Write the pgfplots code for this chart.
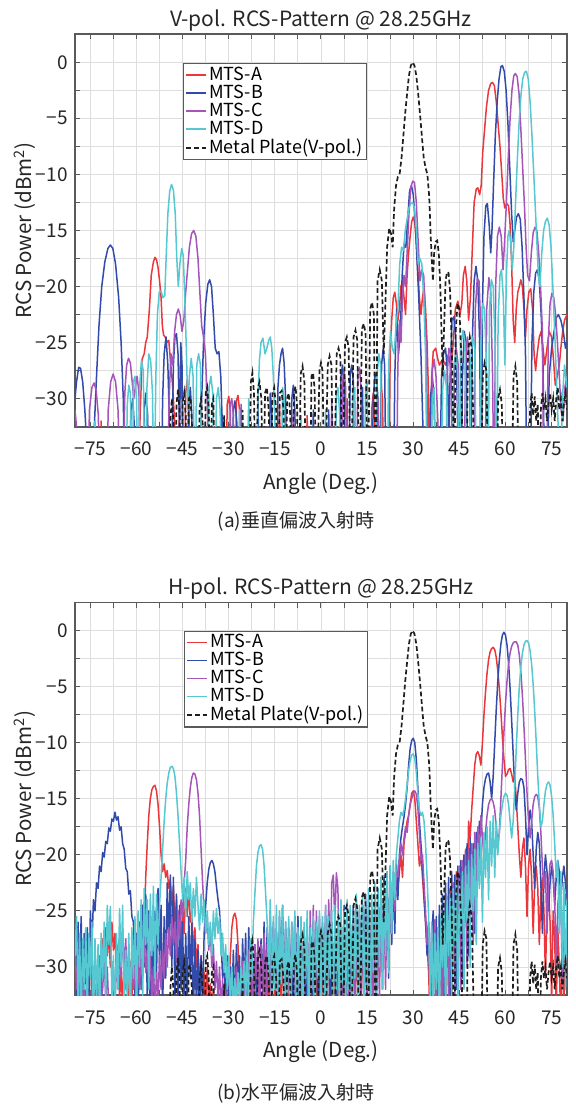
\documentclass[border=0pt]{standalone}
\usepackage{fontspec}
\setmainfont{Noto Sans CJK JP}
\usepackage{pgfplots}
\usepackage{pgfplotstable}
\pgfplotsset{compat=1.18}

\definecolor{cA}{RGB}{235,55,60}
\definecolor{cB}{RGB}{50,75,170}
\definecolor{cC}{RGB}{165,85,185}
\definecolor{cD}{RGB}{85,200,210}
\definecolor{axgray}{RGB}{90,90,90}

% metal plate reference (same in both panels)
\pgfplotstableread{
x y
-80 -40
-50 -40
-49 -32
-48.5 -30
-48 -32
-47.5 -40
-47 -30.5
-46.5 -29.2
-46 -31
-45.5 -40
-45 -30.5
-44.5 -29.5
-44 -31.5
-43.5 -40
-43 -30
-42.5 -29.8
-42 -32
-41.5 -40
-40 -40
-39.5 -31
-39 -30
-38.5 -32
-38 -40
-37.5 -29.5
-37 -29
-36.5 -31
-36 -40
-35.5 -30.5
-35 -30
-34.5 -40
-32 -40
-31.5 -31.5
-31 -40
-26 -40
-25.5 -31
-25 -40
-23.5 -40
-22.8 -28.5
-22.3 -27.7
-21.8 -29.5
-21.2 -40
-20.5 -29
-20 -28.5
-19.4 -30
-18.8 -40
-18.2 -29.5
-17.6 -29
-17 -31
-16.4 -40
-15.8 -29.5
-15.2 -29
-14.6 -31
-14 -40
-13.4 -29.5
-12.8 -29.3
-12.2 -31
-11.6 -40
-11 -30
-10.5 -29.5
-10 -31.5
-9.4 -40
-8.8 -29.5
-8.3 -28.9
-7.8 -30.5
-7.2 -40
-6.6 -27.8
-6 -27.1
-5.4 -28.5
-4.8 -40
-3.6 -40
-3.1 -28
-2.6 -27.7
-2.1 -29
-1.4 -40
-0.5 -27.5
0 -26.8
0.5 -27.5
1.2 -40
2.2 -27
2.8 -26.2
3.4 -27
4.1 -40
5.1 -26
5.7 -25.5
6.3 -26.3
7 -40
7.8 -25
8.4 -24.5
9 -25.5
9.7 -40
10.6 -24.5
11.2 -23.9
11.8 -24.8
12.5 -40
13.3 -23.8
13.9 -23.3
14.5 -24.2
15.2 -40
16 -22
16.6 -21.4
17.2 -22.5
17.8 -40
18.4 -19.5
19.1 -18.5
19.8 -19.5
20.4 -26
20.9 -22
21.5 -16.5
22.2 -14.8
22.8 -15.3
23.3 -16.5
23.8 -13
24.4 -11
25 -10.2
25.6 -9.9
26.2 -8.5
26.8 -6.5
27.4 -4.5
28 -2.8
28.6 -1.2
29.2 -0.3
29.8 0
30.4 -0.3
31 -1.2
31.6 -2.8
32.2 -4.6
32.8 -6.6
33.4 -8.5
34 -9.4
34.6 -10
35.2 -12
35.6 -15
36 -17.5
36.4 -19.5
36.8 -17
37.3 -16
37.8 -15.9
38.3 -17
38.8 -20
39.2 -24
39.6 -28
40 -24
40.5 -19.5
41 -18.7
41.5 -18.8
42 -20.5
42.5 -25
43 -32
43.3 -40
43.8 -24
44.4 -21.5
45 -22
45.6 -26
46.2 -40
47.2 -40
47.8 -26
48.4 -24.5
49 -25.5
49.6 -33
50 -40
52 -40
52.6 -28
53.2 -26.8
53.8 -27.5
54.4 -40
57 -40
57.6 -30
58.2 -29.2
58.8 -30.5
59.4 -40
62 -40
62.6 -28
63.2 -27.1
63.8 -28.5
64.4 -40
67.5 -40
68 -31
68.5 -29.5
69 -31.5
69.5 -29.8
70 -32
70.5 -30.5
71 -40
71.5 -31
72 -29.5
72.5 -31
73 -30
73.5 -32
74 -30.5
74.5 -29.5
75 -31
75.5 -30
76 -32
76.5 -30
77 -29
77.5 -31
78 -30
78.5 -32
79 -30.5
79.5 -29.5
80 -31
}\metal

\pgfplotsset{
  rcsaxis/.style={
    scale only axis, width=246pt, height=196.25pt,
    xmin=-80, xmax=80, ymin=-32.5, ymax=2.5,
    xtick={-75,-60,...,75},
    xticklabels={−75,−60,−45,−30,−15,0,15,30,45,60,75},
    minor x tick num=1,
    ytick={-30,-25,...,0},
    yticklabels={−30,−25,−20,−15,−10,−5,0},
    minor y tick num=1,
    grid=both,
    major grid style={black!13, line width=0.45pt},
    minor grid style={black!13, line width=0.45pt},
    tick align=inside,
    major tick length=2.6pt, minor tick length=2.6pt,
    tick style={axgray, line width=0.5pt},
    axis line style={axgray, line width=0.8pt},
    ticklabel style={font=\fontsize{9.5}{10}\selectfont, text=black!85},
    xticklabel style={anchor=base, yshift=-14.6pt},
    yticklabel style={anchor=east, inner sep=0pt, xshift=-3.5pt},
    xlabel={Angle (Deg.)},
    ylabel={RCS Power (dBm\textsuperscript{2})},
    label style={font=\fontsize{10.3}{12}\selectfont, text=black!85},
    xlabel style={at={(axis description cs:0.5,-0.1595)}, anchor=base},
    ylabel style={at={(axis description cs:-0.1016,0.5)}, anchor=center},
    every axis title/.style={at={(axis description cs:0.5,1.0204)}, anchor=base,
      font=\fontsize{10.5}{12}\selectfont, text=black!85},
    legend style={at={(0.2195,0.926)}, anchor=north west, draw=axgray,
      line width=0.6pt, fill=white, inner xsep=1pt, inner ysep=0.5pt,
      font=\fontsize{9}{10}\selectfont, row sep=-1.2pt,
      nodes={inner sep=1pt, text depth=0.15em}},
    legend cell align=left,
    legend image code/.code={\draw[##1] (0pt,0pt) -- (10pt,0pt);},
  },
  sA/.style={cA, line width=0.75pt, line join=round},
  sB/.style={cB, line width=0.75pt, line join=round},
  sC/.style={cC, line width=0.75pt, line join=round},
  sD/.style={cD, line width=0.75pt, line join=round},
  sM/.style={black!88, line width=0.85pt, dash pattern=on 2.4pt off 1.4pt},
}

\begin{document}
\begin{tikzpicture}
\useasboundingbox (0,0) rectangle (288pt,-552pt);

% ---------------- (a) V-pol ----------------
\begin{axis}[rcsaxis, at={(37.5pt,-213.35pt)}, anchor=south west,
  title={V-pol. RCS-Pattern @ 28.25GHz}]
\addplot[sA] coordinates {
(-80,-40)(-72,-40)(-71.5,-32)(-71,-40)(-60,-40)(-59,-33)(-58.5,-29)(-58.2,-26.5)(-57.5,-26)(-57,-25)(-56.5,-24.5)(-55.8,-22)(-55.2,-19)(-54.5,-17.8)(-54,-17.4)(-53.5,-17.6)(-53,-18.3)(-52.5,-19.5)(-52,-21)(-51.6,-23.5)(-51.2,-24.3)(-50.5,-24.6)(-50,-25)(-49.5,-24.8)(-49,-26.5)(-48.5,-28)(-48,-30)(-47.5,-33)(-47,-40)
(-46.5,-40)(-46,-30)(-45.5,-28.5)(-45,-31)(-44.5,-40)(-44,-29.5)(-43.5,-28.3)(-43,-30)(-42.5,-40)(-33,-40)(-32.5,-31)(-32,-40)(-31,-40)(-30.5,-30.5)(-30,-29.8)(-29.5,-31)(-29,-40)(-28,-40)(-27.5,-30.2)(-27,-29.7)(-26.5,-31)(-26,-40)
(-14,-40)(-13.5,-30.5)(-13,-40)(-5,-40)(-4.5,-31.5)(-4,-40)(8,-40)(8.5,-30)(9,-40)(16,-40)(16.5,-31)(17,-29.5)(17.5,-32)(18,-40)(19,-40)(19.5,-28.5)(20,-30)(20.5,-40)
(22,-40)(22.5,-26)(23,-23)(23.5,-21)(24,-20.5)(24.5,-21.5)(25,-23)(25.5,-22)(26,-20)(26.5,-19.5)(27,-21)(27.5,-22.5)(28,-19)(28.5,-17)(29,-15.5)(29.5,-14.2)(30,-13.8)(30.5,-14.3)(31,-16)(31.5,-18.5)(32,-21)(32.5,-22.5)(33,-21)(33.5,-20)(34,-22)(34.5,-25)(35,-30)(35.5,-40)
(36,-28)(36.5,-25.8)(37.3,-25.5)(38,-26.5)(38.5,-27)(39.5,-26.5)(40.5,-27)(41.5,-26)(42.3,-27.5)(43,-25)(43.7,-22)(44.5,-21.3)(45.2,-22.5)(45.8,-21.5)(46.3,-19)(46.9,-18.2)(47.4,-19.5)(48,-23)(48.6,-21)(49.3,-16)(49.8,-12.5)(50.5,-11.3)(51,-11.2)(51.6,-11.8)(52.1,-11)(52.6,-8)(53.2,-6)(53.8,-4)(54.5,-2.5)(55.2,-1.9)(55.8,-1.8)(56.4,-2.1)(57,-3.5)(57.6,-5.5)(58.2,-7.5)(58.8,-10)(59.3,-12.2)(59.8,-13)(60.4,-12.6)(61,-12.8)(61.5,-14.5)(62,-18)(62.5,-23)(63,-25)(63.5,-22)(64,-20.5)(64.5,-20)(65,-19.4)(65.5,-20)(66,-22)(66.5,-24.5)(67,-22)(67.6,-20.5)(68.2,-20.2)(68.8,-22)(69.3,-26)(69.8,-27.5)(70.3,-26)(71,-24.5)(71.6,-24)(72.2,-25.5)(72.8,-27)(73.5,-25.5)(74.2,-24)(75,-24.5)(75.6,-26.5)(76.2,-28.8)(76.8,-28)(77.5,-27)(78,-25.5)(78.6,-24)(79.2,-23)(80,-22.5)
};
\addlegendentry{MTS-A}
\addplot[sB] coordinates {
(-80,-30)(-79.5,-28.5)(-78.8,-27.2)(-78.2,-27.3)(-77.5,-28.5)(-76.8,-31)(-76.2,-34)(-75.5,-40)(-74.5,-40)(-73.8,-33)(-73,-28)(-72.2,-23.5)(-71.3,-20)(-70.3,-17.8)(-69.3,-16.6)(-68.5,-16.3)(-67.7,-16.6)(-66.8,-18)(-65.8,-21)(-65,-25)(-64.3,-30)(-63.7,-40)
(-62.5,-40)(-61.8,-31)(-61.2,-30)(-60.6,-33)(-60,-40)(-58,-40)(-57.5,-31)(-57,-29.5)(-56.4,-31.5)(-55.8,-40)(-52,-40)(-51.5,-30)(-51,-26)(-50.4,-24.5)(-49.8,-27)(-49.2,-33)(-48.8,-40)(-48,-27)(-47.5,-24.5)(-47,-24.2)(-46.5,-26)(-46,-33)(-45.6,-25)(-45.2,-27)(-44.8,-40)
(-43.5,-40)(-43,-30)(-42.5,-29)(-42,-31.5)(-41.5,-40)(-39.5,-40)(-38.8,-30)(-38.2,-25)(-37.5,-21.5)(-36.8,-19.8)(-36.2,-19.4)(-35.6,-20)(-35,-22.5)(-34.4,-25.5)(-33.8,-26)(-33.2,-25.8)(-32.6,-28)(-32,-33)(-31.5,-40)
(-29,-40)(-28.5,-31)(-28,-30.2)(-27.4,-32)(-27,-40)(-24,-40)(-23.5,-31)(-23,-40)(-21,-40)(-20.5,-30)(-20,-40)(-17,-40)(-16.5,-29.5)(-16,-31)(-15.5,-40)(-14.5,-40)(-14,-29)(-13.5,-27)(-13,-26)(-12.5,-25.5)(-12,-26.8)(-11.5,-30)(-11,-40)(-10,-40)(-9.5,-30)(-9,-28.8)(-8.5,-31)(-8,-40)
(-3,-40)(-2.5,-31)(-2,-40)(2,-40)(2.5,-31)(3,-40)(6,-40)(6.5,-28)(7,-27)(7.5,-29)(8,-40)(9,-40)(9.5,-27.8)(10,-27)(10.5,-28.5)(11,-40)(13,-40)(13.5,-29)(14,-40)(16.5,-40)(17,-30)(17.5,-28)(18,-27.7)(18.5,-30)(19,-40)(19.7,-27)(20.2,-25.6)(20.7,-27)(21.2,-40)
(23.5,-40)(24,-28)(24.6,-22)(25.2,-26)(25.8,-24)(26.4,-19)(27,-16.2)(27.6,-16.5)(28.2,-14)(28.8,-11.5)(29.4,-11)(30,-11.8)(30.6,-14)(31.2,-17.5)(31.8,-21)(32.5,-26)(33.2,-33)(33.8,-40)
(35,-40)(35.6,-30)(36.2,-28)(36.8,-30)(37.4,-40)(38.5,-40)(39.2,-28)(39.8,-26)(40.5,-25.5)(41.1,-27.5)(41.6,-33)(42,-28)(42.6,-23)(43.2,-22.7)(43.8,-24.5)(44.3,-30)(44.8,-40)(45.5,-40)(46,-28)(46.6,-24)(47.2,-25)(47.8,-40)(48.6,-40)(49.2,-25)(49.8,-19.5)(50.4,-18.2)(51,-19.5)(51.6,-25)(52.1,-40)
(52.5,-22)(53,-15.5)(53.6,-12.8)(54.1,-12.6)(54.7,-14.5)(55.2,-17)(55.6,-15)(56.1,-11)(56.7,-6.5)(57.3,-3.5)(57.9,-1.5)(58.5,-0.4)(59,-0.3)(59.6,-0.8)(60.2,-2.5)(60.8,-5.5)(61.4,-9.5)(62,-13.5)(62.5,-16)(63,-15)(63.6,-13.8)(64.2,-13.5)(64.8,-14)(65.4,-16.5)(66,-21)(66.5,-26)(67,-40)
(68,-40)(68.6,-25)(69.2,-20.5)(69.8,-18.8)(70.4,-18.5)(71,-19.5)(71.6,-22.5)(72.2,-27)(72.8,-40)(73.5,-40)(74.2,-28)(75,-25.5)(75.8,-24)(76.5,-22.8)(77.2,-22.5)(78,-23)(78.8,-24)(79.5,-25.5)(80,-25)
};
\addlegendentry{MTS-B}
\addplot[sC] coordinates {
(-80,-31)(-79.5,-32.5)(-79,-40)(-76,-40)(-75.3,-31)(-74.5,-29)(-73.8,-28.6)(-73.1,-29.3)(-72.4,-31.5)(-71.9,-40)(-69.8,-40)(-69.2,-31)(-68.4,-28.5)(-67.6,-27.8)(-66.8,-28.5)(-66,-31)(-65.2,-40)(-64.5,-40)(-63.8,-29.5)(-63.2,-27)(-62.6,-26.4)(-62,-26.8)(-61.4,-28.5)(-60.9,-30)(-60.4,-29)(-59.8,-28)(-59.2,-29.5)(-58.6,-40)
(-57,-40)(-56.5,-31)(-56,-40)(-50,-40)(-49.4,-30)(-48.8,-26)(-48.2,-27)(-47.6,-24)(-47,-22.5)(-46.4,-22)(-45.8,-22.6)(-45.2,-24)(-44.6,-23)(-44,-20.5)(-43.4,-18.5)(-42.8,-16.5)(-42.1,-15.3)(-41.4,-15)(-40.7,-15.5)(-40,-17.5)(-39.4,-20.5)(-38.8,-23.5)(-38.2,-24.5)(-37.6,-26)(-37,-30)(-36.5,-40)
(-30,-40)(-29.5,-30.5)(-29,-30)(-28.5,-31.5)(-28,-40)(-26.5,-40)(-26,-30.5)(-25.5,-40)(-12,-40)(-11.5,-31)(-11,-40)(-9.5,-40)(-9,-31)(-8.5,-40)(3,-40)(3.5,-30)(4,-40)(6.5,-40)(7,-28.5)(7.5,-27.5)(8,-29)(8.5,-40)(11.5,-40)(12,-27.5)(12.5,-27.2)(13,-29)(13.5,-40)(18,-40)(18.5,-30)(19,-40)
(24.5,-40)(25,-27)(25.5,-23)(26,-25)(26.5,-21)(27,-19)(27.5,-20)(28,-17)(28.6,-13.5)(29.2,-11.2)(29.8,-10.6)(30.4,-10.7)(31,-12.5)(31.6,-16)(32.2,-19.5)(32.8,-18.5)(33.4,-19)(34,-23)(34.5,-30)(35,-40)
(35.6,-40)(36.2,-27.5)(36.8,-26.5)(37.4,-28)(38,-32)(38.6,-40)(40.5,-40)(41,-28)(41.6,-25.5)(42.2,-26)(42.8,-40)(43.4,-27)(44,-25.5)(44.6,-27)(45.2,-40)(46.5,-40)(47,-27)(47.6,-24.5)(48.2,-26)(48.8,-40)(49.6,-40)(50.2,-22)(50.8,-19.3)(51.4,-19.5)(52,-24)(52.6,-40)(53.3,-40)(53.9,-22)(54.6,-19.2)(55.2,-20.5)(55.8,-28)(56.3,-40)
(56.8,-20)(57.4,-15.5)(58,-14.7)(58.6,-15.5)(59.2,-18.5)(59.7,-16)(60.3,-12.5)(60.9,-8.5)(61.5,-5)(62.1,-2.5)(62.7,-1.2)(63.2,-1)(63.8,-1.3)(64.4,-2.8)(65,-6)(65.6,-9.5)(66.2,-13)(66.7,-16.5)(67.2,-19)(67.8,-19.5)(68.4,-17)(69,-15.2)(69.6,-14.7)(70.2,-15)(70.8,-17)(71.4,-20)(72,-24)(72.5,-40)
(73.3,-40)(73.9,-25)(74.5,-21.5)(75.1,-20.6)(75.7,-21)(76.3,-22.5)(76.9,-25)(77.5,-28)(78.1,-31)(78.7,-32)(79.3,-29)(80,-28)
};
\addlegendentry{MTS-C}
\addplot[sD] coordinates {
(-80,-40)(-74,-40)(-73.5,-32)(-73,-40)(-63.5,-40)(-63,-30.5)(-62.5,-28.8)(-62,-29.5)(-61.4,-40)(-61,-28.5)(-60.5,-28)(-60,-30)(-59.5,-40)(-59,-29)(-58.4,-26.6)(-57.8,-27.5)(-57.2,-40)(-56.6,-29)(-56,-26)(-55.4,-26.6)(-54.8,-29.5)(-54.3,-40)
(-53.7,-28)(-53.2,-22.5)(-52.6,-20.5)(-52,-20.4)(-51.4,-21)(-50.8,-20.8)(-50.3,-17)(-49.8,-13.5)(-49.2,-11.5)(-48.6,-10.9)(-48,-11.4)(-47.4,-13.5)(-46.9,-17.5)(-46.4,-20)(-45.9,-18)(-45.3,-16.6)(-44.8,-17.2)(-44.3,-21)(-43.8,-25.5)(-43.3,-31)(-42.8,-28)(-42.2,-26.4)(-41.6,-28)(-41,-40)(-40.4,-27)(-39.8,-26)(-39.2,-27)(-38.6,-40)
(-37,-40)(-36.4,-29)(-35.8,-28)(-35.2,-29.5)(-34.6,-40)(-34,-30)(-33.4,-29)(-32.8,-31)(-32.2,-40)(-27,-40)(-26.5,-31)(-26,-40)(-24,-40)(-23.5,-30)(-23,-40)(-21,-40)(-20.5,-30)(-20,-26.5)(-19.5,-25)(-18.9,-24.6)(-18.2,-26)(-17.6,-25.5)(-17,-24.8)(-16.5,-24.5)(-16,-25.5)(-15.5,-28)(-15,-32)(-14.5,-40)
(-13,-40)(-12.5,-29)(-12,-30)(-11.5,-40)(-7,-40)(-6.5,-31.5)(-6,-40)(1,-40)(1.5,-31)(2,-40)(4.5,-40)(5,-29.5)(5.5,-29)(6,-31)(6.5,-40)(10,-40)(10.5,-29.5)(11,-29)(11.5,-40)(14,-40)(14.5,-29)(15,-28.5)(15.5,-40)(17.5,-40)(18.2,-28)(18.8,-26)(19.4,-27)(20,-40)
(21.5,-40)(22,-27)(22.6,-24)(23.2,-25.5)(23.8,-26)(24.4,-23.5)(25,-22)(25.6,-18)(26.2,-16.5)(26.8,-16.8)(27.4,-15)(28,-14)(28.6,-13)(29.2,-12.6)(29.8,-12.5)(30.4,-13)(31,-15)(31.6,-18)(32.2,-17.5)(32.8,-18)(33.4,-21)(34,-26)(34.6,-40)
(35.5,-40)(36.2,-30)(36.8,-29)(37.4,-40)(39,-40)(39.6,-29)(40.2,-27.5)(40.8,-29)(41.4,-40)(42.6,-40)(43.2,-27)(43.8,-26)(44.4,-27.5)(45,-40)(45.6,-25)(46.2,-23.9)(46.8,-25)(47.4,-40)(48.2,-40)(48.8,-26)(49.4,-24.5)(50,-25.5)(50.6,-40)(51.5,-40)(52,-25)(52.6,-21.5)(53.2,-22)(53.8,-27)(54.3,-40)
(54.8,-22)(55.4,-19.4)(56,-20)(56.6,-25)(57.1,-40)(57.6,-23)(58.2,-19)(58.7,-18.5)(59.3,-21)(59.8,-27)(60.3,-19)(60.8,-15.5)(61.2,-15)(61.7,-16)(62.2,-18.5)(62.7,-16.5)(63.2,-13)(63.8,-9)(64.4,-5.5)(65,-3)(65.6,-1.5)(66.2,-0.9)(66.8,-0.8)(67.4,-1.5)(68,-3.5)(68.6,-6.5)(69.2,-10)(69.7,-13)(70.2,-16)(70.7,-19)(71.2,-20)(71.8,-17)(72.4,-15)(73,-14.2)(73.6,-13.9)(74.2,-14.5)(74.8,-16.5)(75.4,-20)(76,-24)(76.6,-28.5)(77.2,-33)(77.8,-40)(78.5,-30)(79.2,-27)(80,-29)
};
\addlegendentry{MTS-D}
\addplot[sM] table {\metal};
\addlegendentry{Metal Plate(V-pol.)}
\end{axis}

% ---------------- (b) H-pol ----------------
\begin{axis}[rcsaxis, at={(37.5pt,-497.5pt)}, anchor=south west,
  title={H-pol. RCS-Pattern @ 28.25GHz},
  legend style={at={(0.2215,0.9286)}}]
\addplot[sA] coordinates {
(-80,-30)(-79.5,-33)(-79,-31)(-78.5,-34)(-78,-29.5)(-77.5,-33)(-77,-31.5)(-76.5,-34)(-76,-30)(-75.5,-33)(-75,-28.5)(-74.5,-32)(-74,-30)(-73.5,-34)(-73,-31)(-72.5,-33)(-72,-29)(-71.5,-32.5)(-71,-27.5)(-70.5,-30)(-70,-26.5)(-69.5,-29)(-69,-27)(-68.5,-30)(-68,-26)(-67.5,-28.5)(-67,-27)(-66.5,-31)(-66,-28)(-65.5,-33)(-65,-30)(-64.5,-34)(-64,-29)(-63.5,-32)(-63,-30.5)(-62.5,-34)(-62,-29.5)(-61.5,-33)(-61,-28)(-60.5,-31)(-60,-27.5)(-59.5,-30)(-59,-26)(-58.5,-28)(-58,-24.5)(-57.5,-26.5)
(-57,-22)(-56.5,-19)(-56,-16.5)(-55.5,-15)(-55,-14.2)(-54.5,-13.9)(-54,-13.8)(-53.5,-14.3)(-53,-15.5)(-52.5,-17.5)(-52,-20)(-51.5,-21.5)(-51,-20.8)(-50.5,-22)(-50,-21.4)(-49.5,-23)(-49,-22.3)(-48.5,-24.5)(-48,-23)(-47.5,-26)(-47,-24)(-46.5,-27)(-46,-25)(-45.5,-28)(-45,-24.5)(-44.5,-27)(-44,-23)(-43.5,-25.5)(-43,-22.8)(-42.5,-26)(-42,-25)(-41.5,-29)(-41,-26.5)(-40.5,-30)(-40,-28)(-39.5,-32)(-39,-29)(-38.5,-33)(-38,-30.5)(-37.5,-34)(-37,-30)(-36.5,-33)(-36,-31.5)(-35.5,-34)(-35,-32)(-34.5,-35)(-34,-33)(-33,-35)(-32,-33)(-31,-35)(-30,-33)
(-29.5,-29)(-29,-26.5)(-28.5,-25.5)(-28,-25.2)(-27.5,-25.8)(-27,-28)(-26.5,-32)(-26,-35)
(-25,-35)(-24.5,-31)(-24,-35)(-23,-34)(-22.5,-30)(-22,-35)(-21,-34)(-20.5,-29.5)(-20,-35)(-19,-33)(-18.5,-28.5)(-18,-34)(-17.5,-29.5)(-17,-35)(-16.5,-28)(-16,-33)(-15.5,-27.5)(-15,-34)(-14.5,-27)(-14,-32)(-13.5,-27.5)(-13,-35)(-12.5,-28)(-12,-33)(-11.5,-27)(-11,-34)(-10.5,-27.5)(-10,-35)(-9.5,-26.5)(-9,-32)(-8.5,-26)(-8,-34)(-7.5,-25.5)(-7,-33)(-6.5,-26)(-6,-35)(-5.5,-26.5)(-5,-33)(-4.5,-27.5)(-4,-35)(-3.5,-28)(-3,-33)(-2.5,-28.5)(-2,-35)(-1.5,-29)(-1,-34)(-0.5,-29.5)(0,-35)
(0.5,-28.5)(1,-34)(1.5,-27.5)(2,-33)(2.5,-27)(3,-35)(3.5,-27.5)(4,-34)(4.5,-28)(5,-33)(5.5,-26.5)(6,-35)(6.5,-27)(7,-33)(7.5,-27.5)(8,-34)(8.5,-26)(9,-32)(9.5,-26.5)(10,-35)(10.5,-27)(11,-33)(11.5,-27.5)(12,-34)(12.5,-26)(13,-32)(13.5,-26.5)(14,-35)(14.5,-27)(15,-33)(15.5,-25.5)(16,-34)(16.5,-25)(17,-31)(17.5,-25.5)(18,-33)(18.5,-24.5)(19,-31)(19.5,-24)(20,-30)(20.5,-23.5)(21,-29.5)(21.5,-23)(22,-28)(22.5,-22.5)(23,-27)(23.5,-21.5)(24,-25)(24.5,-21)(25,-23)
(25.5,-21.5)(26,-20)(26.5,-22)(27,-19)(27.5,-18)(28,-17)(28.5,-16.5)(29,-15.5)(29.5,-14.5)(30,-14.3)(30.5,-15)(31,-17)(31.5,-19)(32,-21)(32.5,-20)(33,-22)(33.5,-24)(34,-26)(34.5,-28)(35,-30.5)
(35.5,-35)(36,-29)(36.5,-34)(37,-27.5)(37.5,-32)(38,-28)(38.5,-35)(39,-27)(39.5,-31)(40,-25.5)(40.5,-34)(41,-24)(41.5,-30)(42,-23)(42.5,-33)(43,-22.5)(43.5,-28)(44,-21.5)(44.5,-32)(45,-22)(45.5,-27)(46,-21)(46.5,-30)(47,-19.5)(47.5,-24)(48,-17)
(48.5,-18.5)(49,-16)(49.5,-14)(50,-12)(50.5,-11)(51,-10.8)(51.5,-11.2)(52,-12)(52.5,-10)(53,-7.5)(53.5,-5.5)(54,-3.8)(54.5,-2.6)(55,-1.9)(55.5,-1.6)(56,-1.5)(56.5,-1.7)(57,-2.4)(57.5,-3.6)(58,-5.2)(58.5,-7.2)(59,-9.5)(59.5,-11.5)(60,-13)(60.5,-12.8)(61,-12.4)(61.5,-12.3)(62,-12.8)(62.5,-13.5)(63,-13)(63.5,-15)(64,-17.5)(64.5,-20)(65,-22)
(65.5,-19.5)(66,-18.5)(66.5,-21)(67,-25.5)(67.5,-21)(68,-19.5)(68.5,-22)(69,-27)(69.5,-22.5)(70,-21)(70.5,-23)(71,-28)(71.5,-23.5)(72,-22)(72.5,-25)(73,-31)(73.5,-24.5)(74,-23)(74.5,-26)(75,-33)(75.5,-25)(76,-27.5)(76.5,-34)(77,-26.5)(77.5,-30)(78,-35)(78.5,-28)(79,-33)(79.5,-27)(80,-30)
};
\addlegendentry{MTS-A}
\addplot[sB] coordinates {
(-80,-27)(-79.5,-33)(-79,-26)(-78.5,-32)(-78,-25.5)(-77.5,-34)(-77,-27)(-76.5,-31.5)(-76,-26.5)(-75.5,-33)(-75,-25)(-74.5,-28)
(-74,-24)(-73.5,-25)(-73,-22.5)(-72.5,-23)(-72,-21)(-71.5,-21.5)(-71,-19.8)(-70.5,-20.2)(-70,-18.8)(-69.5,-19)(-69,-17.6)(-68.5,-17.9)(-68,-16.8)(-67.5,-17)(-67,-16.2)(-66.5,-16.9)(-66,-16.6)(-65.5,-17.8)(-65,-17.5)(-64.5,-19)(-64,-19.5)(-63.5,-21.2)(-63,-21.5)(-62.5,-23.5)(-62,-23.2)(-61.5,-25.5)
(-61,-26)(-60.5,-33)(-60,-27)(-59.5,-35)(-59,-26)(-58.5,-32)(-58,-24.5)(-57.5,-30)(-57,-23.5)(-56.5,-33)(-56,-25)(-55.5,-35)(-55,-26.5)(-54.5,-33)(-54,-25)(-53.5,-31)(-53,-23)(-52.5,-30)(-52,-24.5)(-51.5,-34)(-51,-25.5)(-50.5,-31)
(-50,-22.5)(-49.5,-28)(-49,-21.8)(-48.5,-30)(-48,-22)(-47.5,-33)(-47,-23.5)(-46.5,-35)(-46,-24.5)(-45.5,-32)(-45,-26)(-44.5,-35)(-44,-27)(-43.5,-33)(-43,-25.5)(-42.5,-31)(-42,-26)(-41.5,-35)(-41,-27.5)(-40.5,-34)(-40,-28.5)(-39.5,-35)(-39,-29)(-38.5,-33)(-38,-27)
(-37.5,-24.5)(-37,-22.5)(-36.5,-21.3)(-36,-20.7)(-35.5,-20.5)(-35,-20.8)(-34.5,-21.5)(-34,-22.8)(-33.5,-24)(-33,-25)(-32.5,-27.5)(-32,-31)(-31.5,-29)
(-31,-34)(-30.5,-29)(-30,-35)(-29.5,-30)(-29,-33.5)(-28.5,-28.5)(-28,-34)(-27.5,-28)(-27,-32)(-26.5,-29)(-26,-35)(-25.5,-27.5)(-25,-32)(-24.5,-27)(-24,-34)(-23.5,-26.5)(-23,-31)(-22.5,-27.5)(-22,-35)(-21.5,-28)(-21,-33)(-20.5,-28.5)(-20,-35)(-19.5,-27.5)(-19,-32)(-18.5,-26)(-18,-33.5)(-17.5,-26.5)(-17,-31)(-16.5,-25)(-16,-34)(-15.5,-26)(-15,-32)(-14.5,-27)(-14,-35)(-13.5,-25.5)(-13,-31)(-12.5,-24.5)(-12,-33)(-11.5,-26)(-11,-34)(-10.5,-26.5)(-10,-32)(-9.5,-27)(-9,-35)(-8.5,-25.5)(-8,-31)(-7.5,-25.5)(-7,-34)(-6.5,-27)(-6,-32.5)(-5.5,-26.5)(-5,-35)(-4.5,-27)(-4,-33)(-3.5,-27)(-3,-34)(-2.5,-26)(-2,-31.5)(-1.5,-26)(-1,-35)(-0.5,-27)(0,-33)
(0.5,-26.5)(1,-34)(1.5,-25.5)(2,-31)(2.5,-25)(3,-34.5)(3.5,-26)(4,-32)(4.5,-26.5)(5,-35)(5.5,-26)(6,-31.5)(6.5,-25)(7,-33)(7.5,-24.5)(8,-34)(8.5,-25.5)(9,-32)(9.5,-26)(10,-35)(10.5,-24.5)(11,-31)(11.5,-24)(12,-33.5)(12.5,-25)(13,-34)(13.5,-24.5)(14,-31)(14.5,-23.5)(15,-33)(15.5,-24.5)(16,-35)(16.5,-25)(17,-31.5)(17.5,-24)(18,-33)(18.5,-23)(19,-30)(19.5,-22.5)(20,-32)(20.5,-22)(21,-29)(21.5,-21.5)(22,-31)(22.5,-21)(23,-28)(23.5,-21.6)(24,-27)(24.5,-20.5)(25,-24)
(25.5,-20)(26,-18.5)(26.5,-17.5)(27,-16.6)(27.5,-15.5)(28,-14)(28.5,-12)(29,-10.5)(29.5,-9.8)(30,-9.6)(30.5,-10)(31,-11.5)(31.5,-14)(32,-17)(32.5,-19)(33,-21)(33.5,-23.5)(34,-26)
(34.5,-29)(35,-26)(35.5,-33)(36,-27)(36.5,-25)(37,-31)(37.5,-25.5)(38,-34)(38.5,-24.5)(39,-30)(39.5,-23.5)(40,-33)(40.5,-22.5)(41,-29)(41.5,-22)(42,-34)(42.5,-21.5)(43,-28)(43.5,-21.8)(44,-32)(44.5,-21)(45,-27)(45.5,-20.5)(46,-31)(46.5,-20)(47,-26)(47.5,-19)(48,-29)(48.5,-18.5)(49,-24)(49.5,-19)(50,-27)(50.5,-18)(51,-22)(51.5,-17)(52,-18)
(52.5,-15.5)(53,-14)(53.5,-13.2)(54,-12.8)(54.5,-12.7)(55,-13.5)(55.5,-15)(56,-13)(56.5,-10)(57,-7)(57.5,-4.5)(58,-2.6)(58.5,-1.2)(59,-0.4)(59.5,-0.15)(60,-0.4)(60.5,-1.3)(61,-2.9)(61.5,-5.2)(62,-8)(62.5,-11)(63,-14)(63.5,-16)(64,-14.5)(64.5,-13.5)(65,-13.2)(65.5,-13.3)(66,-14)(66.5,-16.5)(67,-20)(67.5,-17.5)(68,-16)(68.5,-17)(69,-20)(69.5,-23)(70,-19.5)(70.5,-18)(71,-19)(71.5,-22.5)(72,-27)(72.5,-22)(73,-20)(73.5,-21.5)(74,-25)(74.5,-22.5)(75,-21)(75.5,-22)(76,-24.5)(76.5,-22)(77,-20.5)(77.5,-21.5)(78,-24)(78.5,-22)(79,-21)(79.5,-22.5)(80,-24)
};
\addlegendentry{MTS-B}
\addplot[sC] coordinates {
(-80,-28)(-79.5,-32)(-79,-29.5)(-78.5,-33.5)(-78,-30)(-77.5,-34)(-77,-31.5)(-76.5,-35)(-76,-32)(-75,-35)(-74.5,-31)(-74,-34)(-73,-33)(-72.5,-30.5)(-72,-34)(-71,-32)(-70.5,-29)(-70,-33)(-69.5,-30)(-69,-34)(-68,-32.5)(-67.5,-30)(-67,-33.5)(-66.5,-29)(-66,-32)(-65.5,-28)(-65,-31)(-64.5,-27)(-64,-30)(-63.5,-27.5)(-63,-31.5)(-62.5,-28.5)(-62,-33)(-61.5,-29)(-61,-32)(-60.5,-30)(-60,-34)(-59.5,-29.5)(-59,-32)(-58.5,-28)(-58,-31)(-57.5,-27.5)(-57,-30.5)(-56.5,-28.5)(-56,-32)(-55.5,-29)(-55,-33)(-54.5,-30)(-54,-34)(-53.5,-30.5)(-53,-33)(-52.5,-29)(-52,-32)(-51.5,-28.5)(-51,-31)(-50.5,-27)(-50,-30)
(-49.5,-26.5)(-49,-29)(-48.5,-25.5)(-48,-28)(-47.5,-26)(-47,-29.5)(-46.5,-25)(-46,-27.5)(-45.5,-24)(-45,-25.5)(-44.5,-22.5)(-44,-20.5)(-43.5,-17.5)(-43,-15.5)(-42.5,-14)(-42,-13.1)(-41.5,-12.7)(-41,-12.8)(-40.5,-13.3)(-40,-14.5)(-39.5,-16.5)(-39,-19.5)(-38.5,-22.5)(-38,-25)(-37.5,-27)(-37,-25.5)(-36.5,-28.5)(-36,-26.5)(-35.5,-30)(-35,-28)(-34.5,-32)(-34,-29.5)(-33.5,-33)(-33,-30)(-32.5,-34)(-32,-31)(-31.5,-35)(-31,-32)(-30,-35)(-29.5,-31.5)(-29,-34)(-28,-33)(-27.5,-30)(-27,-33.5)(-26,-32)(-25.5,-29.5)
(-25,-33)(-24.5,-29)(-24,-35)(-23.5,-28.5)(-23,-32)(-22.5,-27.5)(-22,-34)(-21.5,-28)(-21,-31)(-20.5,-27.5)(-20,-35)(-19.5,-28)(-19,-32.5)(-18.5,-27)(-18,-34)(-17.5,-28)(-17,-31)(-16.5,-26.5)(-16,-35)(-15.5,-26.5)(-15,-32)(-14.5,-27)(-14,-34)(-13.5,-27.5)(-13,-31)(-12.5,-26)(-12,-35)(-11.5,-27)(-11,-32.5)(-10.5,-26.5)(-10,-34)(-9.5,-26)(-9,-31)(-8.5,-25.5)(-8,-35)(-7.5,-26.5)(-7,-32)(-6.5,-27)(-6,-34.5)(-5.5,-27.5)(-5,-31)(-4.5,-26)(-4,-34)(-3.5,-25)(-3,-32)(-2.5,-24.5)(-2,-35)(-1.5,-25)(-1,-31)(-0.5,-25.5)(0,-34)
(0.5,-26)(1,-32)(1.5,-24.5)(2,-35)(2.5,-24)(3,-30)(3.5,-22.5)(4,-21.8)(4.5,-26)(5,-21.6)(5.5,-23)(6,-31)(6.5,-26.5)(7,-34)(7.5,-25)(8,-32)(8.5,-26)(9,-35)(9.5,-25)(10,-31)(10.5,-26)(11,-34)(11.5,-24.5)(12,-32)(12.5,-25.5)(13,-35)(13.5,-24.5)(14,-31.5)(14.5,-25)(15,-34)(15.5,-24)(16,-32)(16.5,-25)(17,-35)(17.5,-24)(18,-31)(18.5,-23.5)(19,-33)(19.5,-23)(20,-30)(20.5,-23.5)(21,-32)(21.5,-22.5)(22,-29)(22.5,-22)(23,-27)(23.5,-22)(24,-25)(24.5,-21.5)(25,-22)
(25.5,-20.5)(26,-19)(26.5,-20)(27,-18.5)(27.5,-17.5)(28,-18)(28.5,-16.5)(29,-15.5)(29.5,-15)(30,-14.5)(30.5,-14.3)(31,-14.6)(31.5,-15.8)(32,-18)(32.5,-20.5)(33,-20)(33.5,-22.5)(34,-25)
(34.5,-28)(35,-26)(35.5,-33)(36,-26.5)(36.5,-31)(37,-25.8)(37.5,-35)(38,-26.5)(38.5,-32)(39,-27)(39.5,-35)(40,-25)(40.5,-30)(41,-24)(41.5,-34)(42,-23.5)(42.5,-29)(43,-22.5)(43.5,-33)(44,-22)(44.5,-28)(45,-21)(45.5,-32)(46,-20.5)(46.5,-27)(47,-20)(47.5,-30)(48,-19.5)(48.5,-25)(49,-19)(49.5,-28)(50,-18)(50.5,-23)(51,-17.5)(51.5,-21)
(52,-16.5)(52.5,-18.5)(53,-20)(53.5,-18)(54,-16.5)(54.5,-15.5)(55,-15.1)(55.5,-15)(56,-15.3)(56.5,-16)(57,-17.5)(57.5,-19)(58,-18)(58.5,-15)(59,-12)(59.5,-9)(60,-6.5)(60.5,-4.5)(61,-3)(61.5,-2)(62,-1.4)(62.5,-1.1)(63,-1)(63.5,-1)(64,-1.3)(64.5,-2.2)(65,-3.7)(65.5,-5.8)(66,-8.5)(66.5,-11.5)(67,-14.5)(67.5,-17)(68,-18.5)(68.5,-17)(69,-15.5)(69.5,-14.8)(70,-14.6)(70.5,-14.8)(71,-15.8)(71.5,-18)(72,-21)(72.5,-23)(73,-21.5)(73.5,-27)(74,-22.5)(74.5,-20.8)(75,-20.5)(75.5,-21.5)(76,-24)(76.5,-30)(77,-24.5)(77.5,-23)(78,-24.5)(78.5,-31)(79,-25)(79.5,-23.5)(80,-25)
};
\addlegendentry{MTS-C}
\addplot[sD] coordinates {
(-80,-29)(-79.5,-25.5)(-79,-33)(-78.5,-27)(-78,-35)(-77.5,-27.5)(-77,-32)(-76.5,-26.5)(-76,-34)(-75.5,-27)(-75,-31)(-74.5,-26)(-74,-35)(-73.5,-27.5)(-73,-33)(-72.5,-28)(-72,-34.5)(-71.5,-27)(-71,-31)(-70.5,-26)(-70,-33)(-69.5,-24.5)(-69,-28)(-68.5,-24.6)(-68,-33)(-67.5,-29)(-67,-35)(-66.5,-27)(-66,-32)(-65.5,-24.8)(-65,-30)(-64.5,-24.5)(-64,-34)(-63.5,-28.5)(-63,-33)(-62.5,-27)(-62,-35)(-61.5,-26.5)(-61,-31)(-60.5,-25.5)(-60,-34)(-59.5,-25)(-59,-30)(-58.5,-24)(-58,-33)(-57.5,-23)(-57,-28)(-56.5,-24)(-56,-32)(-55.5,-23.5)(-55,-29)(-54.5,-22.8)(-54,-31)(-53.5,-23.5)(-53,-28)(-52.5,-24.5)
(-52,-22)(-51.5,-19.5)(-51,-17)(-50.5,-15)(-50,-13.6)(-49.5,-12.7)(-49,-12.2)(-48.5,-12.1)(-48,-12.3)(-47.5,-13)(-47,-14.5)(-46.5,-16.5)(-46,-19)(-45.5,-21.5)(-45,-24)(-44.5,-22)(-44,-25.5)(-43.5,-21.5)(-43,-24)(-42.5,-22.5)(-42,-26)(-41.5,-23)(-41,-25.5)(-40.5,-22)(-40,-24.5)(-39.5,-26.7)(-39,-23.5)(-38.5,-26)(-38,-24)(-37.5,-27)(-37,-25)(-36.5,-28)(-36,-26)(-35.5,-29)(-35,-25)(-34.5,-27.5)(-34,-24.8)(-33.5,-27)(-33,-25.5)(-32.5,-29)(-32,-27)(-31.5,-30.5)(-31,-28)(-30.5,-32)(-30,-29)(-29.5,-33)(-29,-30)(-28.5,-34)(-28,-31)(-27.5,-33.5)(-27,-30.5)(-26.5,-33)(-26,-30)(-25.5,-32.5)(-25,-29.5)
(-24.5,-33)(-24,-28.5)(-23.5,-34)(-23,-27.5)(-22.5,-31)(-22,-26)(-21.5,-23.5)(-21,-21)(-20.5,-19.8)(-20,-19.2)(-19.5,-19.1)(-19,-19.5)(-18.5,-21)(-18,-23.5)(-17.5,-26)(-17,-31)(-16.5,-24)(-16,-34)(-15.5,-25.5)(-15,-32)(-14.5,-24.5)(-14,-35)(-13.5,-25)(-13,-31.5)(-12.5,-24.5)(-12,-34)(-11.5,-26)(-11,-32.5)(-10.5,-25.5)(-10,-35)(-9.5,-26)(-9,-31)(-8.5,-25)(-8,-34)(-7.5,-26.5)(-7,-33)(-6.5,-25.5)(-6,-35)(-5.5,-26)(-5,-31.5)(-4.5,-25)(-4,-34.5)(-3.5,-26.5)(-3,-32)(-2.5,-25.5)(-2,-35)(-1.5,-26)(-1,-31)(-0.5,-25)(0,-34)
(0.5,-25.5)(1,-32.5)(1.5,-24.5)(2,-35)(2.5,-25.5)(3,-31)(3.5,-25)(4,-34)(4.5,-24.5)(5,-32)(5.5,-25)(6,-35)(6.5,-24)(7,-31.5)(7.5,-25)(8,-34)(8.5,-24)(9,-32)(9.5,-24.5)(10,-35)(10.5,-25)(11,-31)(11.5,-23.5)(12,-33.5)(12.5,-24.5)(13,-31)(13.5,-23.5)(14,-34)(14.5,-24)(15,-32)(15.5,-23)(16,-35)(16.5,-23.5)(17,-30.5)(17.5,-22.5)(18,-33)(18.5,-23)(19,-30)(19.5,-22)(20,-32)(20.5,-22.5)(21,-29)(21.5,-21.5)(22,-30.5)(22.5,-21)(23,-27)(23.5,-20.5)(24,-24)(24.5,-20)
(25,-18.5)(25.5,-17)(26,-16.2)(26.5,-16.5)(27,-16)(27.5,-15)(28,-13.8)(28.5,-12.5)(29,-11.6)(29.5,-11.1)(30,-11)(30.5,-11.4)(31,-12.6)(31.5,-14.5)(32,-16)(32.5,-16.5)(33,-16.2)(33.5,-17)(34,-19)
(34.5,-22)(35,-25.5)(35.5,-33)(36,-26)(36.5,-35)(37,-27)(37.5,-32)(38,-26.5)(38.5,-35)(39,-25.5)(39.5,-30)(40,-25)(40.5,-34)(41,-24)(41.5,-29)(42,-23.5)(42.5,-33)(43,-23)(43.5,-28)(44,-22.5)(44.5,-34)(45,-22.5)(45.5,-27)(46,-21.5)(46.5,-32)(47,-21)(47.5,-26)(48,-20.5)(48.5,-30)(49,-20)(49.5,-25)(50,-19.5)(50.5,-28)(51,-19)(51.5,-23)(52,-18.5)(52.5,-26)(53,-18)(53.5,-22)(54,-17.5)(54.5,-24)(55,-17)(55.5,-21)(56,-16.5)(56.5,-22)(57,-17)(57.5,-20)(58,-18)
(58.5,-16.5)(59,-15.5)(59.5,-14.8)(60,-14.5)(60.5,-14.7)(61,-15.5)(61.5,-17)(62,-18.5)(62.5,-17)(63,-14)(63.5,-10.5)(64,-7.5)(64.5,-5)(65,-3.2)(65.5,-2)(66,-1.3)(66.5,-0.95)(67,-0.9)(67.5,-1.1)(68,-1.8)(68.5,-3)(69,-4.8)(69.5,-7.2)(70,-10)(70.5,-13)(71,-15.5)(71.5,-17.5)(72,-17)(72.5,-15.5)(73,-14.3)(73.5,-13.7)(74,-13.5)(74.5,-13.8)(75,-14.8)(75.5,-16.5)(76,-19)(76.5,-22)(77,-20.5)(77.5,-27)(78,-21.5)(78.5,-30)(79,-22.5)(79.5,-32)(80,-24)
};
\addlegendentry{MTS-D}
\addplot[sM] table {\metal};
\addlegendentry{Metal Plate(V-pol.)}
\end{axis}

\node[font=\fontsize{9.5}{11}\selectfont, text=black!85] at (148pt,-260.85pt) {(a)垂直偏波入射時};
\node[font=\fontsize{9.5}{11}\selectfont, text=black!85] at (148pt,-546.65pt) {(b)水平偏波入射時};
\end{tikzpicture}
\end{document}
